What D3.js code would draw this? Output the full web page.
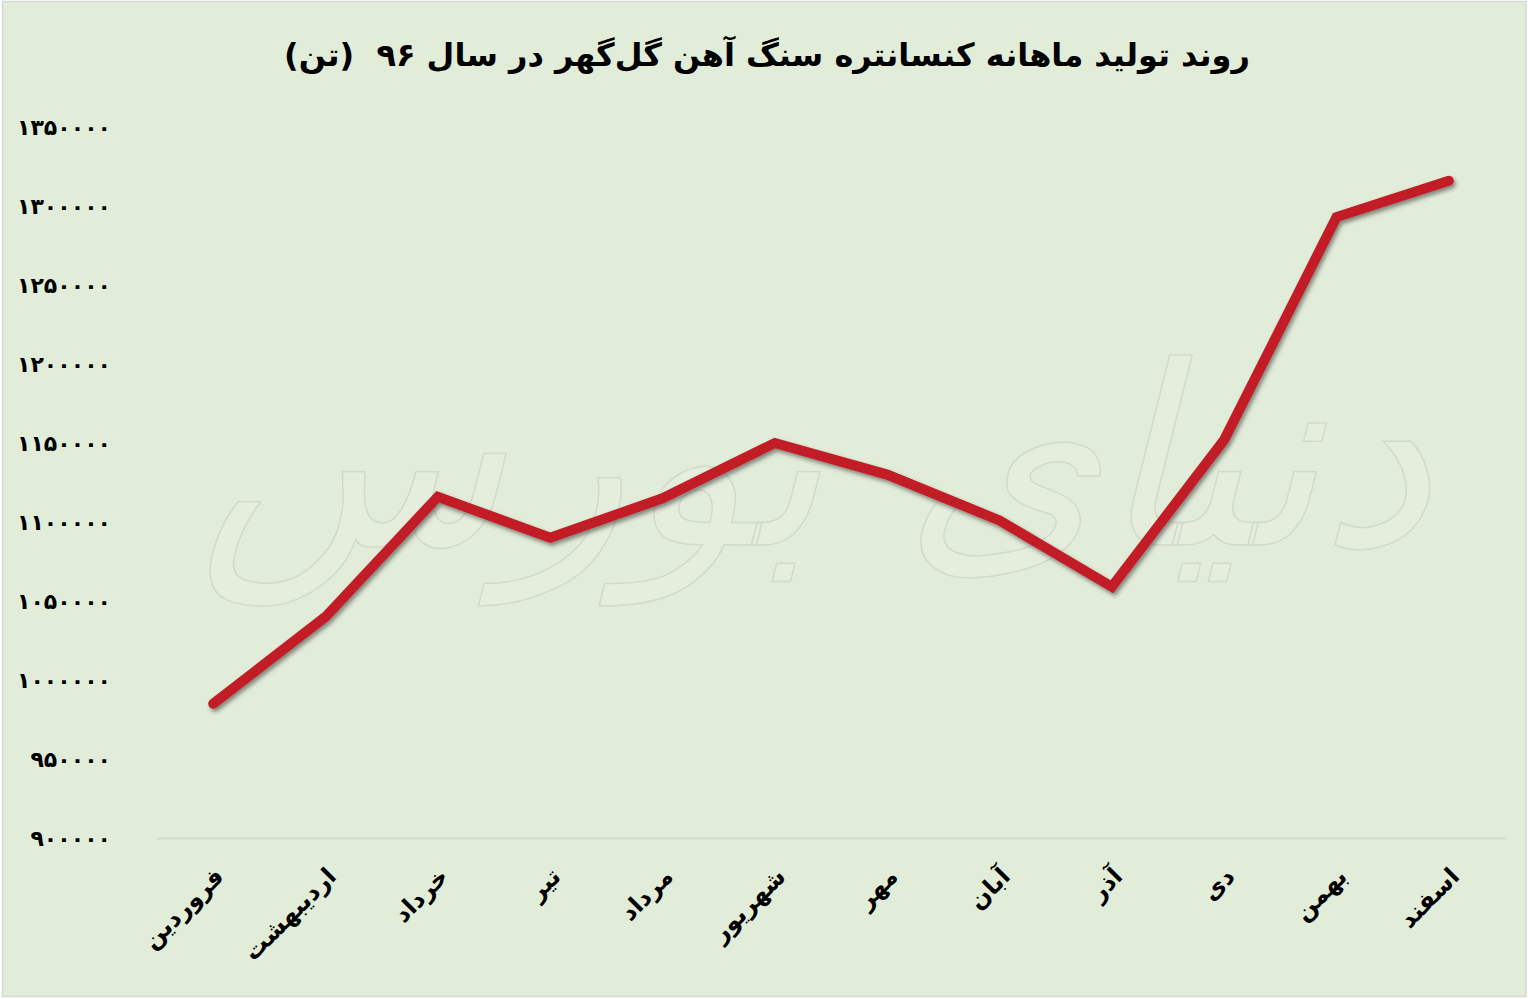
<!DOCTYPE html>
<html><head><meta charset="utf-8">
<script src="https://cdn.jsdelivr.net/npm/d3@7"></script>
<style>
html,body{margin:0;padding:0;background:#fff;}
svg{display:block;}
</style></head>
<body>
<svg id="chart" width="1528" height="999"></svg>
<script>
const title = "روند تولید ماهانه کنسانتره سنگ آهن گل‌گهر در سال ۹۶  (تن)";
const months = ["فروردین","اردیبهشت","خرداد","تیر","مرداد","شهریور","مهر","آبان","آذر","دی","بهمن","اسفند"];
const production = [985000,1040000,1116000,1090000,1115000,1150000,1130000,1101000,1059000,1152000,1293000,1316000];
const yTicks = [900000,950000,1000000,1050000,1100000,1150000,1200000,1250000,1300000,1350000];
const watermark = "دنیای بورس";

const faDigits = "۰۱۲۳۴۵۶۷۸۹";
const toFa = n => String(n).replace(/\d/g, d => faDigits[+d]);

const svg = d3.select("#chart");
const W = 1528, H = 999;
const m = {left:157, right:23, top:127, bottom:161};

const defs = svg.append("defs");
const f = defs.append("filter").attr("id","sh").attr("x","-5%").attr("y","-5%").attr("width","110%").attr("height","120%");
f.append("feDropShadow").attr("dx",2).attr("dy",3).attr("stdDeviation",2).attr("flood-color","#333").attr("flood-opacity",0.55);

svg.append("rect").attr("x",0).attr("y",0).attr("width",W).attr("height",H).attr("fill","#ffffff");
svg.append("rect").attr("x",2.5).attr("y",1.5).attr("width",W-4.5).attr("height",H-4)
  .attr("fill","#e2edd9").attr("stroke","#d6d9d3").attr("stroke-width",1.5);

// watermark
svg.append("text")
  .attr("x",815).attr("y",545)
  .attr("text-anchor","middle")
  .attr("font-family","DejaVu Sans")
  .attr("font-size",250)
  .attr("font-style","italic")
  .attr("fill","#e6efdf")
  .attr("stroke","#cdd3c6")
  .attr("stroke-width",1.5)
  .attr("opacity",0.75)
  .text(watermark);

const x = d3.scaleBand().domain(months).range([m.left, W-m.right]);
const y = d3.scaleLinear().domain([900000,1350000]).range([H-m.bottom, m.top]);

// title
svg.append("text")
  .attr("x",767).attr("y",66)
  .attr("text-anchor","middle")
  .attr("font-family","DejaVu Sans")
  .attr("font-weight","bold")
  .attr("font-size",32)
  .attr("fill","#000")
  .style("white-space","pre")
  .text(title);

// x axis baseline
svg.append("line")
  .attr("x1",m.left).attr("x2",W-m.right)
  .attr("y1",y(900000)+0.5).attr("y2",y(900000)+0.5)
  .attr("stroke","#d3dbcd").attr("stroke-width",2);

// y axis labels
const yAxis = d3.axisLeft(y).tickValues(yTicks).tickFormat(toFa).tickSize(0).tickPadding(0);
const gy = svg.append("g").attr("transform",`translate(111,0)`).call(yAxis);
gy.select(".domain").remove();
gy.selectAll("text")
  .attr("font-family","DejaVu Sans")
  .attr("font-weight","bold")
  .attr("font-size",22)
  .attr("fill","#000")
  .attr("dy","0.35em");

// x axis labels
const xAxis = d3.axisBottom(x).tickSize(0).tickPadding(0);
const gx = svg.append("g").attr("transform",`translate(0,${y(900000)})`).call(xAxis);
gx.select(".domain").remove();
gx.selectAll(".tick text")
  .attr("font-family","DejaVu Sans")
  .attr("font-weight","bold")
  .attr("font-size",24)
  .attr("fill","#000")
  .attr("text-anchor","end")
  .attr("x",0).attr("y",0).attr("dy",0)
  .attr("transform","translate(12,40) rotate(-45)");

// line
const line = d3.line()
  .x((d,i) => x(months[i]) + x.bandwidth()/2)
  .y(d => y(d));
svg.append("path")
  .datum(production)
  .attr("d", line)
  .attr("fill","none")
  .attr("stroke","#c21e27")
  .attr("stroke-width",10)
  .attr("stroke-linecap","round")
  .attr("stroke-linejoin","miter")
  .attr("filter","url(#sh)");
</script>
</body></html>
